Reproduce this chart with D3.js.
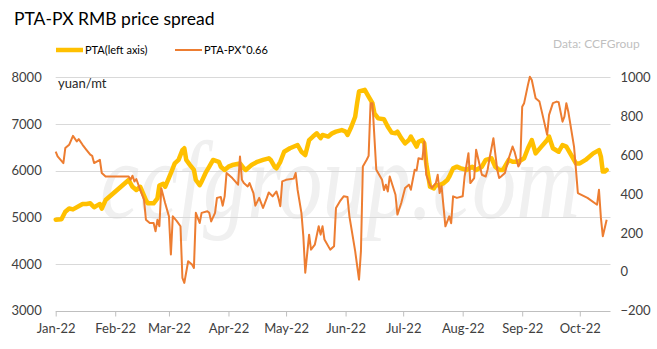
<!DOCTYPE html>
<html><head><meta charset="utf-8">
<script src="https://cdn.jsdelivr.net/npm/d3@7/dist/d3.min.js"></script>
<style>body{margin:0;background:#fff}svg{display:block}</style>
</head><body>
<svg id="chart" width="657" height="349"></svg>
<script>
// ---- data ----
const ptaDates = ["01-04","01-07","01-09","01-11","01-13","01-18","01-20","01-22","01-24","01-25","01-27","01-28","01-30","02-11","02-13","02-15","02-17","02-20","02-21","02-24","02-26","02-27","03-01","03-02","03-05","03-07","03-09","03-11","03-12","03-13","03-15","03-17","03-18","03-20","03-21","03-23","03-25","03-27","03-30","03-31","04-02","04-04","04-06","04-10","04-12","04-13","04-16","04-19","04-22","04-25","04-26","04-28","04-29","05-01","05-03","05-06","05-10","05-12","05-14","05-16","05-18","05-20","05-22","05-23","05-26","05-28","05-30","06-02","06-04","06-05","06-07","06-09","06-10","06-11","06-14","06-16","06-18","06-19","06-21","06-24","06-26","06-28","06-30","07-01","07-03","07-05","07-07","07-08","07-11","07-12","07-14","07-15","07-16","07-18","07-20","07-21","07-23","07-25","07-27","07-28","07-30","08-01","08-03","08-06","08-09","08-11","08-14","08-16","08-19","08-21","08-23","08-25","08-28","08-30","09-02","09-05","09-07","09-09","09-11","09-14","09-17","09-18","09-20","09-23","09-25","09-27","09-30","10-02","10-04","10-07","10-11","10-14","10-15","10-16","10-17","10-18"];
const ptaValues = [4950,4960,5120,5190,5170,5285,5285,5300,5215,5240,5285,5185,5370,5800,5655,5585,5655,5370,5300,5300,5405,5680,5720,5655,5945,6155,6230,6440,6480,6230,6120,6015,5800,5690,5765,5945,6085,6230,6190,6085,6015,6085,6120,6155,6050,6015,6120,6190,6230,6265,6230,6085,6050,6190,6405,6480,6550,6405,6335,6655,6730,6800,6695,6765,6730,6800,6835,6870,6835,6765,6940,7155,7445,7695,7730,7585,7445,7230,7120,7100,6940,6815,6800,6835,6695,6585,6655,6730,6515,6620,6655,6585,6155,5655,5620,5690,5690,5730,5800,5870,6050,6085,6050,6015,6085,6015,6085,6230,6265,6085,6015,6015,6230,6190,6190,6265,6480,6655,6370,6515,6655,6730,6480,6405,6550,6515,6300,6155,6155,6230,6370,6440,6300,5980,5980,6015];
const spreadDates = ["01-04","01-05","01-08","01-09","01-11","01-13","01-15","01-16","01-18","01-20","01-22","01-23","01-24","01-27","01-28","01-30","02-11","02-12","02-13","02-14","02-15","02-17","02-19","02-20","02-22","02-24","02-25","02-26","02-27","02-28","03-02","03-04","03-05","03-06","03-08","03-10","03-11","03-12","03-14","03-16","03-17","03-18","03-20","03-21","03-24","03-25","03-26","03-28","03-29","03-31","04-01","04-02","04-03","04-06","04-09","04-10","04-11","04-12","04-14","04-15","04-17","04-18","04-20","04-22","04-24","04-25","04-27","04-29","04-30","05-01","05-02","05-04","05-08","05-09","05-10","05-12","05-13","05-14","05-16","05-17","05-19","05-21","05-22","05-23","05-24","05-27","05-29","05-30","06-01","06-03","06-05","06-06","06-09","06-11","06-12","06-13","06-15","06-16","06-17","06-18","06-20","06-23","06-24","06-25","06-26","06-27","06-30","07-01","07-03","07-05","07-07","07-08","07-10","07-11","07-12","07-14","07-15","07-16","07-18","07-19","07-21","07-22","07-23","07-24","07-26","07-28","07-29","07-30","08-01","08-04","08-05","08-07","08-08","08-10","08-11","08-14","08-16","08-17","08-18","08-20","08-22","08-23","08-24","08-26","08-28","08-30","08-31","09-02","09-03","09-04","09-05","09-07","09-08","09-09","09-11","09-13","09-15","09-17","09-18","09-20","09-22","09-23","09-25","09-26","09-27","09-28","09-29","10-01","10-02","10-03","10-08","10-13","10-14","10-15","10-16","10-18"];
const spreadValues = [618,593,559,636,653,699,670,682,653,627,602,596,559,576,508,490,490,473,494,465,477,422,371,268,251,251,208,268,234,430,354,285,89,285,262,234,-31,-57,54,37,20,303,251,303,311,303,259,303,380,385,340,388,508,482,448,593,473,456,439,456,405,340,380,328,380,408,388,413,380,337,465,473,479,508,422,303,183,-5,191,114,140,234,191,234,166,114,131,328,362,388,385,285,106,-40,106,542,576,596,867,867,525,473,420,448,413,490,396,294,354,431,448,422,525,521,584,579,670,500,445,431,456,499,405,440,234,285,250,388,380,388,490,610,456,482,627,499,490,525,584,687,525,482,490,508,584,644,618,542,559,849,867,961,1003,986,892,875,790,704,807,867,875,872,772,798,867,824,764,644,525,405,380,345,422,277,183,268];
const leftTicks = [3000,4000,5000,6000,7000,8000];
const rightTicks = [-200,0,200,400,600,800,1000];
const monthTicks = ["01-04","02-04","03-04","04-04","05-04","06-04","07-04","08-04","09-04","10-04"];
const monthLabels = ["Jan-22","Feb-22","Mar-22","Apr-22","May-22","Jun-22","Jul-22","Aug-22","Sep-22","Oct-22"];
const seriesNames = ["PTA(left axis)","PTA-PX*0.66"];
const colors = ["#FFC000","#ED7D31"];

// ---- chart ----
const parse = s => d3.timeParse("%Y-%m-%d")("2022-" + s);
const svg = d3.select("#chart");
const font = "Lato, 'Open Sans', sans-serif";
const L = 55.7, R = 610.5, T = 77.3, B = 310.7;

const x = d3.scaleTime().domain([parse("01-04"), parse("10-20")]).range([L, R]);
const yL = d3.scaleLinear().domain([3000, 8000]).range([B, T]);
const yR = d3.scaleLinear().domain([-200, 1000]).range([B, T]);

// watermark (sized to fit its natural width, then stretched vertically)
const wm = svg.append("text")
  .attr("font-family", "'Liberation Serif', serif").attr("font-style", "italic")
  .attr("font-size", 100).attr("fill", "#f0f0f0").text("ccfgroup.com");
const natW = wm.node().getComputedTextLength();
const wmSize = 100 * 480 / natW;
wm.attr("font-size", wmSize)
  .attr("transform", `translate(100,218) scale(1,1.25)`);

// gridlines
svg.append("g").selectAll("line").data(leftTicks.slice(1)).join("line")
  .attr("x1", L).attr("x2", R).attr("y1", d => Math.round(yL(d)) + 0.5).attr("y2", d => Math.round(yL(d)) + 0.5)
  .attr("stroke", "#d9d9d9").attr("stroke-width", 1);

// left axis
const gl = svg.append("g").attr("transform", `translate(${L},0)`)
  .call(d3.axisLeft(yL).tickValues(leftTicks).tickSize(0).tickPadding(14).tickFormat(d3.format("d")));
gl.select(".domain").remove();
gl.selectAll("text").attr("font-family", font).attr("font-size", 13).attr("fill", "#404040");

// right axis
const gr = svg.append("g").attr("transform", `translate(${R},0)`)
  .call(d3.axisRight(yR).tickValues(rightTicks).tickSize(0).tickPadding(10).tickFormat(d3.format("d")));
gr.select(".domain").remove();
gr.selectAll("text").attr("font-family", font).attr("font-size", 13).attr("fill", "#404040");

// bottom axis
const gb = svg.append("g").attr("transform", `translate(0,${Math.round(B) + 0.5})`)
  .call(d3.axisBottom(x).tickValues(monthTicks.map(parse)).tickSize(5).tickPadding(7)
    .tickFormat((d, i) => monthLabels[i]));
gb.select(".domain").attr("d", `M${L},0H${R}`).attr("stroke", "#bfbfbf");
gb.selectAll(".tick line").attr("stroke", "#bfbfbf");
gb.selectAll("text").attr("font-family", font).attr("font-size", 13).attr("fill", "#404040");

// lines
const ptaData = ptaDates.map((d, i) => ({ date: parse(d), v: ptaValues[i] }));
const spreadData = spreadDates.map((d, i) => ({ date: parse(d), v: spreadValues[i] }));
svg.append("path").datum(ptaData)
  .attr("d", d3.line().x(d => x(d.date)).y(d => yL(d.v)))
  .attr("fill", "none").attr("stroke", colors[0]).attr("stroke-width", 4.5)
  .attr("stroke-linejoin", "round").attr("stroke-linecap", "round");
svg.append("path").datum(spreadData)
  .attr("d", d3.line().x(d => x(d.date)).y(d => yR(d.v)))
  .attr("fill", "none").attr("stroke", colors[1]).attr("stroke-width", 2)
  .attr("stroke-linejoin", "round");

// unit label
svg.append("text").attr("x", 58).attr("y", 88).attr("font-family", font)
  .attr("font-size", 13).attr("fill", "#262626").text("yuan/mt");

// title
svg.append("text").attr("x", 14).attr("y", 25).attr("font-family", font)
  .attr("font-size", 17.5).attr("fill", "#000").text("PTA-PX RMB price spread");

// legend
const lg = svg.append("g");
const legX = [56, 175];
seriesNames.forEach((n, i) => {
  lg.append("line").attr("x1", legX[i]).attr("x2", legX[i] + 27).attr("y1", 50).attr("y2", 50)
    .attr("stroke", colors[i]).attr("stroke-width", i === 0 ? 4.5 : 2);
  lg.append("text").attr("x", legX[i] + 29).attr("y", 54).attr("font-family", font)
    .attr("font-size", 11).attr("fill", "#000").text(n);
});

svg.append("text").attr("x", 553).attr("y", 48).attr("font-family", font)
  .attr("font-size", 12).attr("fill", "#bfbfbf").text("Data: CCFGroup");
</script>
</body></html>
